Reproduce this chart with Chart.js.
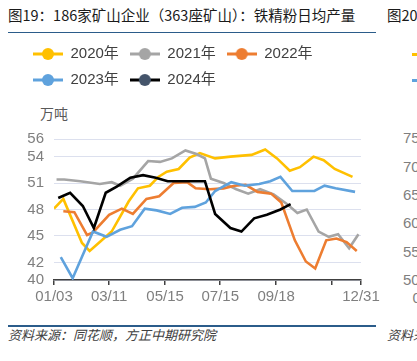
<!DOCTYPE html>
<html>
<head>
<meta charset="utf-8">
<script src="https://cdn.jsdelivr.net/npm/chart.js@4.4.1/dist/chart.umd.min.js"></script>
<style>
  html, body { margin: 0; padding: 0; background: #fff; }
  #page { position: relative; width: 417px; height: 361px; overflow: hidden; font-family: "Noto Sans CJK SC", sans-serif; }
  #chart { position: absolute; left: 0; top: 0; }
  .txt { position: absolute; white-space: nowrap; }
  .title { font-size: 14.5px; line-height: 15px; color: #1a1a1a; }
  .rule { position: absolute; height: 1.5px; background: #2b5c8a; }
  .src { font-size: 13px; line-height: 14px; color: #404040; font-style: italic; }
  .unit { font-size: 14px; line-height: 14px; color: #595959; }
  .num { font-family: "Liberation Sans", sans-serif; font-size: 15px; line-height: 18px; color: #7f7f7f; }
  .mark { position: absolute; width: 10px; height: 3px; }
</style>
</head>
<body>
<div id="page">
  <div class="txt title" style="left:8px;top:7px">图19：186家矿山企业（363座矿山）：铁精粉日均产量</div>
  <div class="rule" style="left:8px;top:31.5px;width:368px"></div>
  <div class="txt unit" style="left:40px;top:106px">万吨</div>
  <div class="rule" style="left:8px;top:325px;width:368px"></div>
  <div class="txt src" style="left:8px;top:328px">资料来源：同花顺，方正中期研究院</div>

  <!-- edge of the next chart on the page -->
  <div class="txt title" style="left:387px;top:7px">图20</div>
  <div class="mark" style="left:412px;top:52.5px;background:#FFC000"></div>
  <div class="mark" style="left:412px;top:78.5px;background:#5FA2DD"></div>
  <div class="txt num" style="left:403px;top:129px">75</div>
  <div class="txt num" style="left:403px;top:157.5px">70</div>
  <div class="txt num" style="left:403px;top:186px">65</div>
  <div class="txt num" style="left:403px;top:214px">60</div>
  <div class="txt num" style="left:403px;top:242.5px">55</div>
  <div class="txt num" style="left:403px;top:271px">50</div>
  <div class="txt num" style="left:412.5px;top:288.5px">0</div>
  <div class="txt src" style="left:387px;top:328px">资料来源</div>

  <canvas id="chart" width="417" height="361"></canvas>
</div>
<script>
// x values are day of year (01/03 = 3, 12/31 = 365)
const tickDays = [3, 68, 134, 199, 265, 331, 365];
const tickLabels = ["01/03", "03/11", "05/15", "07/15", "09/18", "", "12/31"];
const yTicks = [40, 42, 45, 48, 51, 54, 56];

const seriesNames = ["2020年", "2021年", "2022年", "2023年", "2024年"];

const days2020 = [3, 14, 36, 45, 57, 71, 81, 91, 102, 116, 126, 136, 150, 163, 175, 193, 211, 236, 252, 266, 281, 293, 309, 321, 334, 355];
const vals2020 = [48.1, 49.2, 44.2, 43.3, 44.3, 45.5, 47.2, 48.9, 50.4, 50.7, 51.7, 52.3, 52.6, 53.9, 54.4, 53.8, 54.0, 54.2, 54.8, 53.8, 52.4, 52.8, 54.0, 53.6, 52.6, 51.7];

const days2021 = [6, 15, 34, 57, 71, 81, 96, 114, 128, 142, 158, 171, 181, 188, 203, 218, 232, 246, 262, 278, 290, 301, 315, 327, 338, 351, 362];
const vals2021 = [51.4, 51.4, 51.2, 50.9, 51.1, 50.7, 51.5, 53.5, 53.4, 53.8, 54.7, 54.3, 53.8, 51.5, 51.0, 50.3, 49.8, 50.3, 49.7, 48.6, 47.6, 48.0, 45.5, 44.9, 45.2, 43.6, 45.2];

const days2022 = [14, 27, 42, 49, 68, 83, 96, 112, 127, 144, 160, 170, 187, 203, 216, 229, 243, 259, 271, 287, 300, 311, 324, 336, 348, 360];
const vals2022 = [47.8, 47.7, 45.1, 45.4, 47.4, 48.1, 47.5, 49.2, 49.5, 51.0, 51.1, 50.4, 50.3, 50.4, 50.7, 50.8, 50.0, 49.8, 48.8, 44.5, 42.1, 41.3, 44.5, 44.7, 44.3, 43.3];

const days2023 = [11, 25, 49, 65, 81, 95, 110, 124, 140, 154, 169, 182, 193, 212, 228, 245, 258, 270, 284, 297, 310, 322, 335, 358];
const vals2023 = [42.6, 40.2, 45.5, 44.9, 45.7, 46.1, 48.1, 47.9, 47.5, 48.2, 48.3, 48.8, 50.1, 51.1, 50.7, 50.9, 51.2, 51.7, 50.1, 50.1, 50.1, 50.7, 50.4, 50.0];

const days2024 = [8, 22, 37, 50, 64, 77, 93, 108, 123, 137, 152, 166, 181, 193, 211, 224, 239, 254, 270, 282];
const vals2024 = [49.3, 49.9, 48.4, 45.9, 49.9, 50.6, 51.6, 51.9, 51.6, 51.2, 51.2, 51.2, 51.2, 47.5, 45.9, 45.5, 47.0, 47.4, 48.0, 48.6];

const seriesDays = [days2020, days2021, days2022, days2023, days2024];
const seriesVals = [vals2020, vals2021, vals2022, vals2023, vals2024];
const lineColors = ["#FFC000", "#A5A5A5", "#ED7D31", "#5FA2DD", "#000000"];
const dotColors = ["#FFC000", "#A5A5A5", "#ED7D31", "#5FA2DD", "#44546A"];

const tickFont = { family: "'Liberation Sans', 'Noto Sans CJK SC', sans-serif", size: 15 };

// line-with-dot marker for the legend
function legendMarker(line, dot){
  const c = document.createElement("canvas");
  c.width = 30; c.height = 14;
  const g = c.getContext("2d");
  g.strokeStyle = line; g.lineWidth = 3;
  g.beginPath(); g.moveTo(0, 7); g.lineTo(30, 7); g.stroke();
  g.fillStyle = dot;
  g.beginPath(); g.arc(15, 7, 6, 0, Math.PI * 2); g.fill();
  return c;
}
const markers = seriesNames.map((n, i) => legendMarker(lineColors[i], dotColors[i]));

// leave room under the legend for the unit label
const legendSpace = {
  id: "legendSpace",
  afterInit(chart){
    const fit = chart.legend.fit;
    chart.legend.fit = function(){ fit.call(this); this.height += 41.5; };
  }
};

new Chart(document.getElementById("chart"), {
  type: "line",
  data: {
    datasets: seriesNames.map((name, i) => ({
      label: name,
      data: seriesDays[i].map((d, k) => ({ x: d, y: seriesVals[i][k] })),
      borderColor: lineColors[i],
      backgroundColor: lineColors[i],
      borderWidth: 2.6,
      pointRadius: 0,
      tension: 0,
      order: seriesNames.length - i
    }))
  },
  options: {
    responsive: false,
    animation: false,
    devicePixelRatio: 1,
    layout: { padding: { left: 22, right: 56, top: 35.5, bottom: 0 } },
    plugins: {
      tooltip: { enabled: false },
      legend: {
        position: "top",
        align: "start",
        labels: {
          font: tickFont,
          color: "#404040",
          padding: 11,
          usePointStyle: true,
          pointStyleWidth: 30,
          generateLabels: chart => chart.data.datasets.map((ds, i) => ({
            text: ds.label,
            pointStyle: markers[i],
            fontColor: "#404040",
            fillStyle: lineColors[i],
            strokeStyle: lineColors[i],
            lineWidth: 0,
            hidden: false,
            datasetIndex: i
          }))
        }
      }
    },
    scales: {
      x: {
        type: "linear",
        min: 3,
        max: 365,
        afterBuildTicks: s => { s.ticks = tickDays.map(v => ({ value: v })); },
        afterFit: s => { s.height = 81; },
        ticks: {
          autoSkip: false,
          maxRotation: 0,
          padding: 3,
          color: "#7f7f7f",
          font: tickFont,
          callback: (v, i) => tickLabels[i]
        },
        grid: { drawOnChartArea: false, drawTicks: true, tickLength: 5, color: "#404040", lineWidth: 1.5 },
        border: { display: true, color: "#404040", width: 1.5 }
      },
      y: {
        min: 40,
        max: 56,
        afterBuildTicks: s => { s.ticks = yTicks.map(v => ({ value: v })); },
        afterFit: s => { s.width = 32; },
        ticks: { padding: 10, color: "#7f7f7f", font: tickFont },
        grid: { color: "#DCE0EE", drawTicks: false, lineWidth: 1 },
        border: { display: false }
      }
    }
  },
  plugins: [legendSpace]
});
</script>
</body>
</html>
